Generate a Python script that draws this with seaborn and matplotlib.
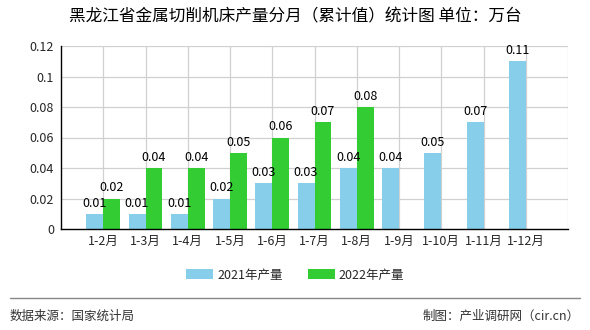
import numpy as np
import pandas as pd
import matplotlib
matplotlib.use("Agg")
import matplotlib.pyplot as plt
import seaborn as sns
from matplotlib.patches import Patch

categories = ["1-2月", "1-3月", "1-4月", "1-5月", "1-6月", "1-7月", "1-8月", "1-9月", "1-10月", "1-11月", "1-12月"]
values_2021 = [0.01, 0.01, 0.01, 0.02, 0.03, 0.03, 0.04, 0.04, 0.05, 0.07, 0.11]
values_2022 = [0.02, 0.04, 0.04, 0.05, 0.06, 0.07, 0.08, np.nan, np.nan, np.nan, np.nan]
series_names = ["2021年产量", "2022年产量"]
colors = ["#87CEEB", "#33CC33"]
yticks = [0, 0.02, 0.04, 0.06, 0.08, 0.1, 0.12]
ytick_labels = ["0", "0.02", "0.04", "0.06", "0.08", "0.1", "0.12"]

sns.set_theme(style="white")
plt.rcParams["font.family"] = ["Noto Sans CJK SC", "DejaVu Sans"]

df = pd.DataFrame({
    "月份": categories * 2,
    "产量": values_2021 + values_2022,
    "系列": [series_names[0]] * len(categories) + [series_names[1]] * len(categories),
})

fig = plt.figure(figsize=(5.9, 3.3), dpi=100)
ax = fig.add_axes([61 / 590, 1 - 229 / 330, (568 - 61) / 590, (229 - 46) / 330])

sns.barplot(data=df, x="月份", y="产量", hue="系列", palette=colors, width=0.8,
            ax=ax, legend=False, saturation=1, linewidth=0, edgecolor="none", gap=0)

ax.set_xlim(-1, len(categories))
ax.set_ylim(0, 0.12)
ax.set_yticks(yticks)
ax.set_yticklabels(ytick_labels, fontsize=9)
ax.set_xticks(range(len(categories)))
ax.set_xticklabels(categories, fontsize=9)
ax.set_xlabel("")
ax.set_ylabel("")

for t in yticks[1:]:
    ax.axhline(t, color="#d0d0d0", lw=0.9, zorder=0)
for i in range(len(categories) + 1):
    ax.axvline(i, color="#d0d0d0", lw=0.9, zorder=0)
ax.set_axisbelow(True)

for s in ["top", "right"]:
    ax.spines[s].set_visible(False)
for s in ["left", "bottom"]:
    ax.spines[s].set_color("black")
    ax.spines[s].set_linewidth(1.0)
ax.tick_params(axis="y", length=3, width=0.8, color="black", pad=2)
ax.tick_params(axis="x", length=0, pad=4)

for container in ax.containers:
    labels = ["" if np.isnan(b.get_height()) else f"{b.get_height():g}" for b in container]
    ax.bar_label(container, labels=labels, padding=3, fontsize=9, color="black")

handles = [Patch(facecolor=c, edgecolor="none") for c in colors]
fig.legend(handles, series_names, loc="center", bbox_to_anchor=(0.5, 1 - 275 / 330), ncol=2,
           frameon=False, fontsize=9, handlelength=2.2, handleheight=0.9, columnspacing=2.0,
           handletextpad=0.3)

fig.text(0.5, 1 - 17 / 330, "黑龙江省金属切削机床产量分月（累计值）统计图 单位：万台",
         ha="center", va="center", fontsize=12, color="black")
fig.add_artist(plt.Line2D([10 / 590, 580 / 590], [1 - 298 / 330, 1 - 298 / 330],
                          color="#888888", lw=1.0))
fig.text(10 / 590, 1 - 316 / 330, "数据来源：国家统计局", ha="left", va="center",
         fontsize=9, color="#333333")
fig.text(580 / 590, 1 - 316 / 330, "制图：产业调研网（cir.cn）", ha="right", va="center",
         fontsize=9, color="#333333")

fig.savefig("out.png", dpi=100)
